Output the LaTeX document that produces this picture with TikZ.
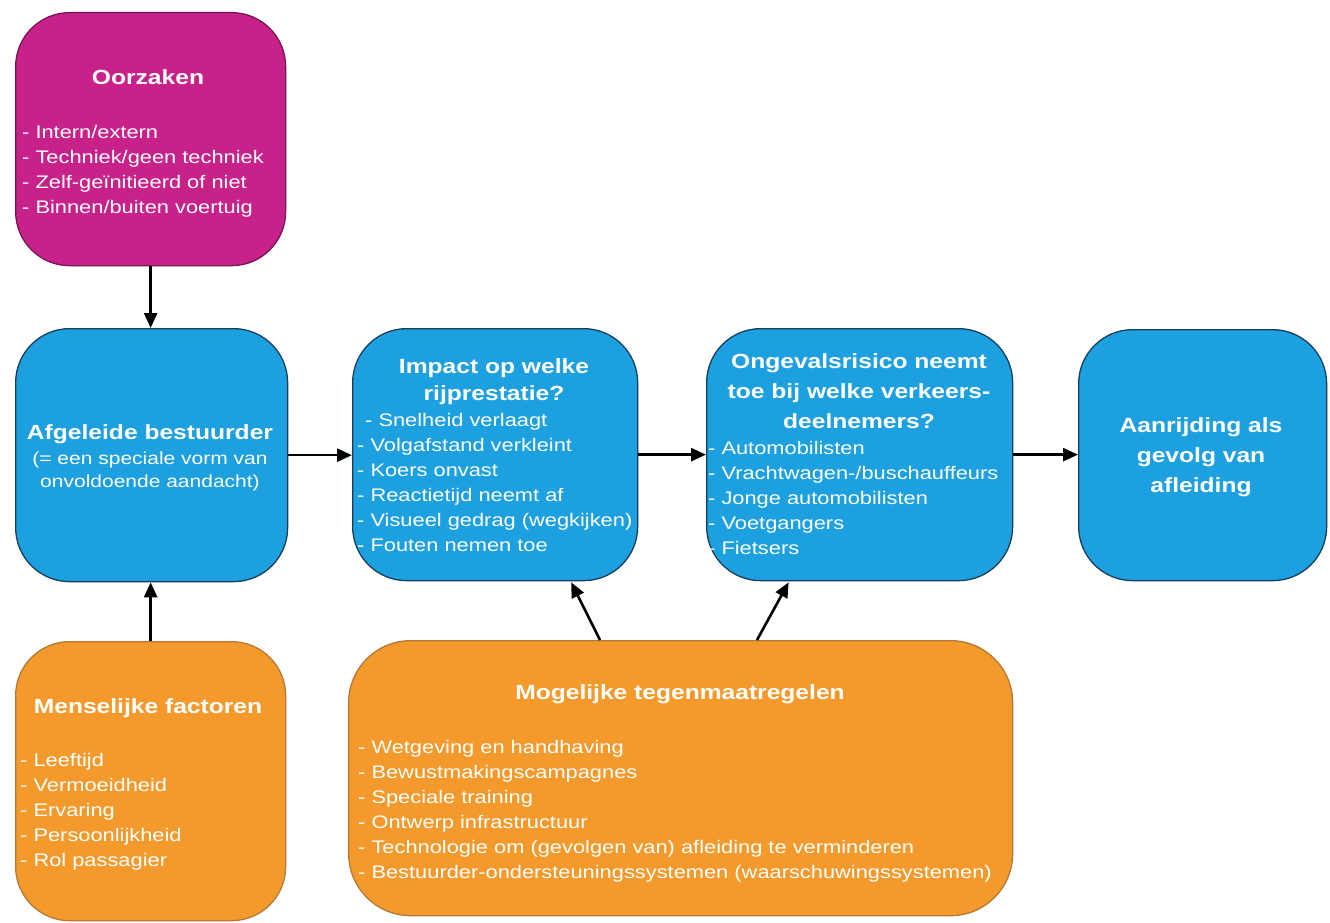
\documentclass[tikz,border=0pt]{standalone}
\usepackage{fontspec}
\setmainfont[FakeStretch=1.2]{Liberation Sans}
\usetikzlibrary{arrows.meta,calc}
\definecolor{cmag}{HTML}{C8228A}
\definecolor{cblue}{HTML}{1CA0E0}
\definecolor{corange}{HTML}{F49A2C}
\definecolor{bmag}{HTML}{7A1452}
\definecolor{bblue}{HTML}{173F5A}
\definecolor{borange}{HTML}{B47A35}
\begin{document}
\begin{tikzpicture}[x=1pt,y=-1pt,
  box/.style={rectangle, rounded corners=54pt, line width=1.3pt, inner sep=0pt, anchor=north west},
  magbox/.style={box, fill=cmag, draw=bmag},
  bluebox/.style={box, fill=cblue, draw=bblue},
  orbox/.style={box, fill=corange, draw=borange},
  arr/.style={line width=2.6pt, -{Triangle[length=15pt,width=13pt]}},
  txt/.style={text=white, inner sep=0pt},
  ttl/.style={txt, font=\fontsize{20.5}{27}\selectfont\bfseries, anchor=base},
  sub/.style={txt, font=\fontsize{17.5}{23}\selectfont, anchor=base},
  lst/.style={txt, font=\fontsize{18.2}{25}\selectfont, anchor=base west}
]
\useasboundingbox (0,0) rectangle (1330,923);

% boxes
\node[magbox, minimum width=270pt, minimum height=253pt] (oorz) at (15,12) {};
\node[bluebox, minimum width=272pt, minimum height=253pt] (afg) at (15,328) {};
\node[bluebox, minimum width=285pt, minimum height=252pt] (imp) at (352,328) {};
\node[bluebox, minimum width=306pt, minimum height=252pt] (ong) at (706,328) {};
\node[bluebox, minimum width=248pt, minimum height=251pt] (aan) at (1078,329) {};
\node[orbox, minimum width=270pt, minimum height=279pt] (men) at (15,641) {};
\node[orbox, minimum width=664pt, minimum height=275pt, rounded corners=62pt] (mog) at (348,640) {};

% texts
\node[ttl] (t-oorz) at (148,84.5) {Oorzaken};
\node[lst] (l-oorz) at (22,139) {\begin{tabular}[t]{@{}l@{}}- Intern/extern\\- Techniek/geen techniek\\- Zelf-geïnitieerd of niet\\- Binnen/buiten voertuig\end{tabular}};

\node[ttl] (t-afg) at (150,439.5) {Afgeleide bestuurder};
\node[sub] (s-afg) at (150,464.5) {\begin{tabular}[t]{@{}c@{}}(= een speciale vorm van\\onvoldoende aandacht)\end{tabular}};

\node[ttl] (t-imp) at (494,373.5) {\begin{tabular}[t]{@{}c@{}}Impact op welke\\rijprestatie?\end{tabular}};
\node[lst] (l-imp) at (357,426.5) {\begin{tabular}[t]{@{}l@{}}\hspace{8pt}- Snelheid verlaagt\\- Volgafstand verkleint\\- Koers onvast\\- Reactietijd neemt af\\- Visueel gedrag (wegkijken)\\- Fouten nemen toe\end{tabular}};

\node[ttl, font=\fontsize{20.5}{30}\selectfont\bfseries] (t-ong) at (859,368.5) {\begin{tabular}[t]{@{}c@{}}Ongevalsrisico neemt\\toe bij welke verkeers-\\deelnemers?\end{tabular}};
\node[lst] (l-ong) at (708,454.5) {\begin{tabular}[t]{@{}l@{}}- Automobilisten\\- Vrachtwagen-/buschauffeurs\\- Jonge automobilisten\\- Voetgangers\\- Fietsers\end{tabular}};

\node[ttl, font=\fontsize{20.5}{30}\selectfont\bfseries] (t-aan) at (1201,432.5) {\begin{tabular}[t]{@{}c@{}}Aanrijding als\\gevolg van\\afleiding\end{tabular}};

\node[ttl] (t-men) at (148,713.5) {Menselijke factoren};
\node[lst] (l-men) at (20,766.5) {\begin{tabular}[t]{@{}l@{}}- Leeftijd\\- Vermoeidheid\\- Ervaring\\- Persoonlijkheid\\- Rol passagier\end{tabular}};

\node[ttl] (t-mog) at (680,699.5) {Mogelijke tegenmaatregelen};
\node[lst] (l-mog) at (358,753.5) {\begin{tabular}[t]{@{}l@{}}- Wetgeving en handhaving\\- Bewustmakingscampagnes\\- Speciale training\\- Ontwerp infrastructuur\\- Technologie om (gevolgen van) afleiding te verminderen\\- Bestuurder-ondersteuningssystemen (waarschuwingssystemen)\end{tabular}};

% connectors
\draw[arr] (oorz.south) -- (oorz.south |- afg.north);
\draw[arr] (men.north) -- (men.north |- afg.south);
\draw[arr] (afg.east) -- (imp.west |- afg.east);
\draw[arr] (imp.east) -- (ong.west |- imp.east);
\draw[arr] (ong.east) -- (aan.west |- ong.east);
\coordinate (mt1) at ($(mog.north west)+(252,0)$);
\coordinate (mt2) at ($(mog.north west)+(409,0)$);
\draw[arr] (mt1) -- ($(imp.south)+(76,1)$);
\draw[arr] (mt2) -- ($(ong.south)+(-71,1)$);
\end{tikzpicture}
\end{document}
